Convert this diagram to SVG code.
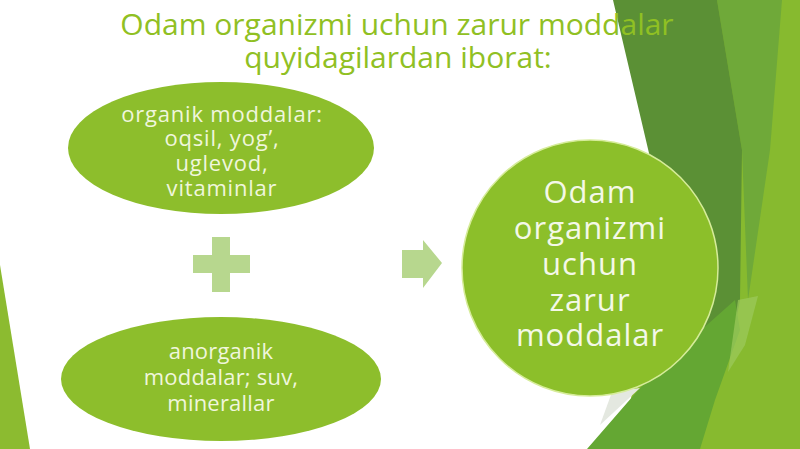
<svg xmlns="http://www.w3.org/2000/svg" width="800" height="449" viewBox="0 0 800 449">
<style>
.title{font-family:"Open Sans","Noto Sans",sans-serif;font-size:30px;fill:#90c023;text-anchor:middle}
.lbl{font-family:"Open Sans","Noto Sans",sans-serif;font-size:22px;fill:#f0f6dc;text-anchor:middle}
.big{font-family:"Open Sans","Noto Sans",sans-serif;font-size:31px;letter-spacing:1px;fill:#f4f8e8;text-anchor:middle}
.node{fill:#8dbe2c}
.sym{fill:#b7d78e}
</style>
<rect x="0" y="0" width="800" height="449" fill="#ffffff"/>
<g id="background">
  <polygon points="0,265 0,449 30,449" fill="#8cbb30"/>
  <line x1="619" y1="0" x2="662" y2="175" stroke="#e2e4e0" stroke-width="1.5"/>
  <polygon points="717,0 800,0 800,449 620,449" fill="#87ba2f"/>
  <polygon points="717,0 782,0 770,150 748,300 742,150" fill="#6fa939"/>
  <polygon points="613,0 717,0 742,150 740,300 728,360 712,392 690,330 660,200" fill="#5b9035"/>
  <polygon points="587,449 640,388 690,340 735,300 740,330 715,400 700,449" fill="#64a733"/>
  <polygon points="738,300 758,296 745,345 728,372" fill="#9cca5c" opacity="0.7"/>
  <polygon points="612,392 640,388 600,425" fill="#e4e8e0"/>
</g>
<g id="title">
  <text class="title" x="397" y="35">Odam organizmi uchun zarur moddalar</text>
  <text class="title" x="398" y="68">quyidagilardan iborat:</text>
</g>
<g id="connectors">
  <path class="sym" d="M212,237 H230 V255 H250 V273 H230 V292 H212 V273 H193 V255 H212 Z"/>
  <path class="sym" d="M402,250 H423 V240 L442,263 L423,288 V278 H402 Z"/>
</g>
<g id="node-organik">
  <ellipse class="node" cx="221" cy="148" rx="153" ry="66"/>
  <text class="lbl" x="222" y="122" letter-spacing="0.8">organik moddalar:</text>
  <text class="lbl" x="222" y="146" letter-spacing="0.8">oqsil, yog’,</text>
  <text class="lbl" x="222" y="171" letter-spacing="0.8">uglevod,</text>
  <text class="lbl" x="222" y="196" letter-spacing="0.8">vitaminlar</text>
</g>
<g id="node-anorganik">
  <ellipse class="node" cx="221" cy="379" rx="160" ry="62"/>
  <text class="lbl" x="221" y="359" letter-spacing="0.2">anorganik</text>
  <text class="lbl" x="221" y="385" letter-spacing="0.2">moddalar; suv,</text>
  <text class="lbl" x="221" y="411" letter-spacing="0.2">minerallar</text>
</g>
<g id="node-result">
  <circle cx="590" cy="268" r="128" fill="#8cbf2a" stroke="#d6ec9a" stroke-width="1.5"/>
  <text class="big" x="590" y="203">Odam</text>
  <text class="big" x="590" y="239">organizmi</text>
  <text class="big" x="590" y="275">uchun</text>
  <text class="big" x="590" y="311">zarur</text>
  <text class="big" x="590" y="346">moddalar</text>
</g>
</svg>
